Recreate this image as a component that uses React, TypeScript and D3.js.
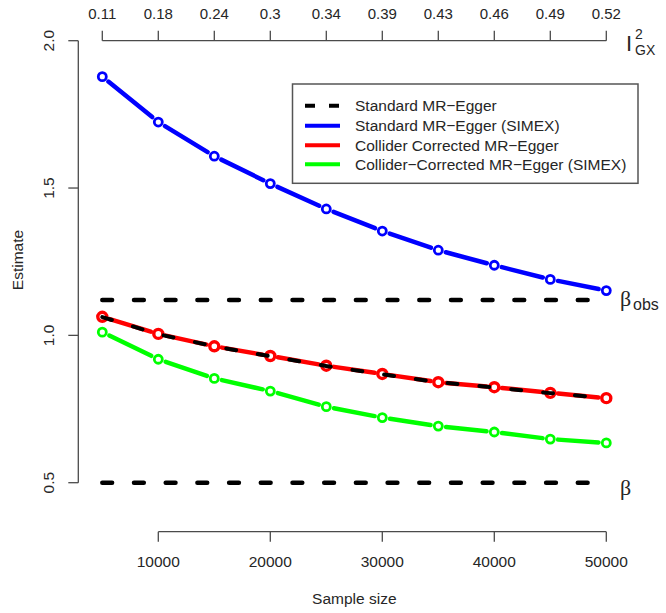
import React from "react";
import * as d3 from "d3";

const sampleSizes = [5000, 10000, 15000, 20000, 25000, 30000, 35000, 40000, 45000, 50000];
const topTickLabels = ["0.11", "0.18", "0.24", "0.3", "0.34", "0.39", "0.43", "0.46", "0.49", "0.52"];
const bottomTicks = [10000, 20000, 30000, 40000, 50000];
const yTicks = [0.5, 1.0, 1.5, 2.0];

const standardEgger = [1.062, 1.004, 0.963, 0.929, 0.896, 0.868, 0.841, 0.823, 0.804, 0.787];
const standardSimex = [1.878, 1.724, 1.608, 1.515, 1.429, 1.354, 1.289, 1.238, 1.19, 1.152];
const colliderEgger = [1.063, 1.005, 0.963, 0.93, 0.897, 0.869, 0.841, 0.824, 0.805, 0.787];
const colliderSimex = [1.011, 0.919, 0.854, 0.811, 0.758, 0.721, 0.692, 0.672, 0.648, 0.635];

const betaObs = 1.12;
const beta = 0.5;

const legendLabels = [
  "Standard MR\u2212Egger",
  "Standard MR\u2212Egger (SIMEX)",
  "Collider Corrected MR\u2212Egger",
  "Collider\u2212Corrected MR\u2212Egger (SIMEX)",
];

const W = 666;
const H = 613;
const FONT = "'Liberation Sans', Arial, Helvetica, sans-serif";
const SERIF = "'Liberation Serif', 'DejaVu Serif', serif";
const AXIS = "#4a4a4a";
const TXT = "#262626";
const BETA = "\u03b2";

const x = d3.scaleLinear().domain([5000, 50000]).range([102.3, 606.3]);
const y = d3.scaleLinear().domain([0.5, 2.0]).range([482.7, 40.7]);

function typeBSegments(vals: number[], gap: number) {
  const pts = vals.map((v, i) => [x(sampleSizes[i]), y(v)] as [number, number]);
  const segs: [number, number, number, number][] = [];
  for (let i = 0; i < pts.length - 1; i++) {
    const [x1, y1] = pts[i];
    const [x2, y2] = pts[i + 1];
    const dx = x2 - x1, dy = y2 - y1;
    const L = Math.hypot(dx, dy);
    const ux = dx / L, uy = dy / L;
    segs.push([x1 + ux * gap, y1 + uy * gap, x2 - ux * gap, y2 - uy * gap]);
  }
  return { pts, segs };
}

function SeriesB({ vals, color, r, sw }: { vals: number[]; color: string; r: number; sw: number }) {
  const { pts, segs } = typeBSegments(vals, 7.8);
  return (
    <g>
      {segs.map((s, i) => (
        <line key={i} x1={s[0]} y1={s[1]} x2={s[2]} y2={s[3]} stroke={color} strokeWidth={4.5} strokeLinecap="round" />
      ))}
      {pts.map((p, i) => (
        <circle key={i} cx={p[0]} cy={p[1]} r={r} fill="none" stroke={color} strokeWidth={sw} />
      ))}
    </g>
  );
}

export default function App() {
  const line = d3
    .line<number>()
    .x((_, i) => x(sampleSizes[i]))
    .y((d) => y(d));

  const legendRows = [105.7, 125.7, 145.3, 164.3];
  const legendColors = ["#000", "#0000ff", "#ff0000", "#00ff00"];

  return (
    <svg width={W} height={H} style={{ position: "absolute", left: 0, top: 0, background: "#fff" }} fontFamily={FONT}>
      <rect x={0} y={0} width={W} height={H} fill="#fff" />

      {/* Left axis */}
      <line x1={78.3} x2={78.3} y1={y(0.5)} y2={y(2.0)} stroke={AXIS} strokeWidth={1.3} />
      {yTicks.map((t) => (
        <g key={t}>
          <line x1={68.3} x2={78.3} y1={y(t)} y2={y(t)} stroke={AXIS} strokeWidth={1.3} />
          <text
            x={49}
            y={y(t)}
            transform={`rotate(-90, 49, ${y(t)})`}
            textAnchor="middle"
            dominantBaseline="central"
            fontSize={15.5}
            fill={TXT}
          >
            {t.toFixed(1)}
          </text>
        </g>
      ))}
      <text
        x={17.5}
        y={260}
        transform="rotate(-90, 17.5, 260)"
        textAnchor="middle"
        dominantBaseline="central"
        fontSize={15.5}
        fill={TXT}
      >
        Estimate
      </text>

      {/* Bottom axis */}
      <line x1={x(10000)} x2={x(50000)} y1={531.7} y2={531.7} stroke={AXIS} strokeWidth={1.3} />
      {bottomTicks.map((t) => (
        <g key={t}>
          <line x1={x(t)} x2={x(t)} y1={531.7} y2={541.7} stroke={AXIS} strokeWidth={1.3} />
          <text x={x(t)} y={561} textAnchor="middle" dominantBaseline="central" fontSize={15.5} fill={TXT}>
            {t}
          </text>
        </g>
      ))}
      <text x={x(27500)} y={598} textAnchor="middle" dominantBaseline="central" fontSize={15.5} fill={TXT}>
        Sample size
      </text>

      {/* Top axis */}
      <line x1={x(5000)} x2={x(50000)} y1={40.7} y2={40.7} stroke={AXIS} strokeWidth={1.3} />
      {sampleSizes.map((s, i) => (
        <g key={s}>
          <line x1={x(s)} x2={x(s)} y1={30.7} y2={40.7} stroke={AXIS} strokeWidth={1.3} />
          <text x={x(s)} y={13.3} textAnchor="middle" dominantBaseline="central" fontSize={15} fill={TXT}>
            {topTickLabels[i]}
          </text>
        </g>
      ))}
      <text x={626} y={51} fontSize={22} fill={TXT}>I</text>
      <text x={635} y={39} fontSize={14} fill={TXT}>2</text>
      <text x={635} y={55} fontSize={14} fill={TXT}>GX</text>

      {/* Horizontal reference lines */}
      {[betaObs, beta].map((b) => (
        <line
          key={b}
          x1={x(5000)}
          x2={x(50000)}
          y1={y(b)}
          y2={y(b)}
          stroke="#000"
          strokeWidth={4.5}
          strokeDasharray="9.8 21.9"
          strokeLinecap="round"
        />
      ))}
      <text x={620} y={306} fontSize={22} fontFamily={SERIF} fill={TXT}>{BETA}</text>
      <text x={633} y={310} fontSize={16} fill={TXT}>obs</text>
      <text x={620} y={495} fontSize={22} fontFamily={SERIF} fill={TXT}>{BETA}</text>

      {/* Series */}
      <SeriesB vals={standardSimex} color="#0000ff" r={4} sw={2.8} />
      <SeriesB vals={colliderSimex} color="#00ff00" r={4} sw={2.8} />
      <SeriesB vals={colliderEgger} color="#ff0000" r={4.5} sw={3.4} />
      <path
        d={line(standardEgger) || ""}
        fill="none"
        stroke="#000"
        strokeWidth={4}
        strokeDasharray="10 22"
        strokeLinecap="round"
      />

      {/* Legend */}
      <rect x={292.5} y={84} width={345.5} height={99.3} fill="#fff" stroke="#555" strokeWidth={1.5} />
      {legendLabels.map((lab, i) => (
        <g key={lab}>
          <line
            x1={305}
            x2={340}
            y1={legendRows[i]}
            y2={legendRows[i]}
            stroke={legendColors[i]}
            strokeWidth={4}
            strokeDasharray={i === 0 ? "10 14" : undefined}
          />
          <text x={355} y={legendRows[i]} dominantBaseline="central" fontSize={15.5} fill={TXT}>
            {lab}
          </text>
        </g>
      ))}
    </svg>
  );
}
